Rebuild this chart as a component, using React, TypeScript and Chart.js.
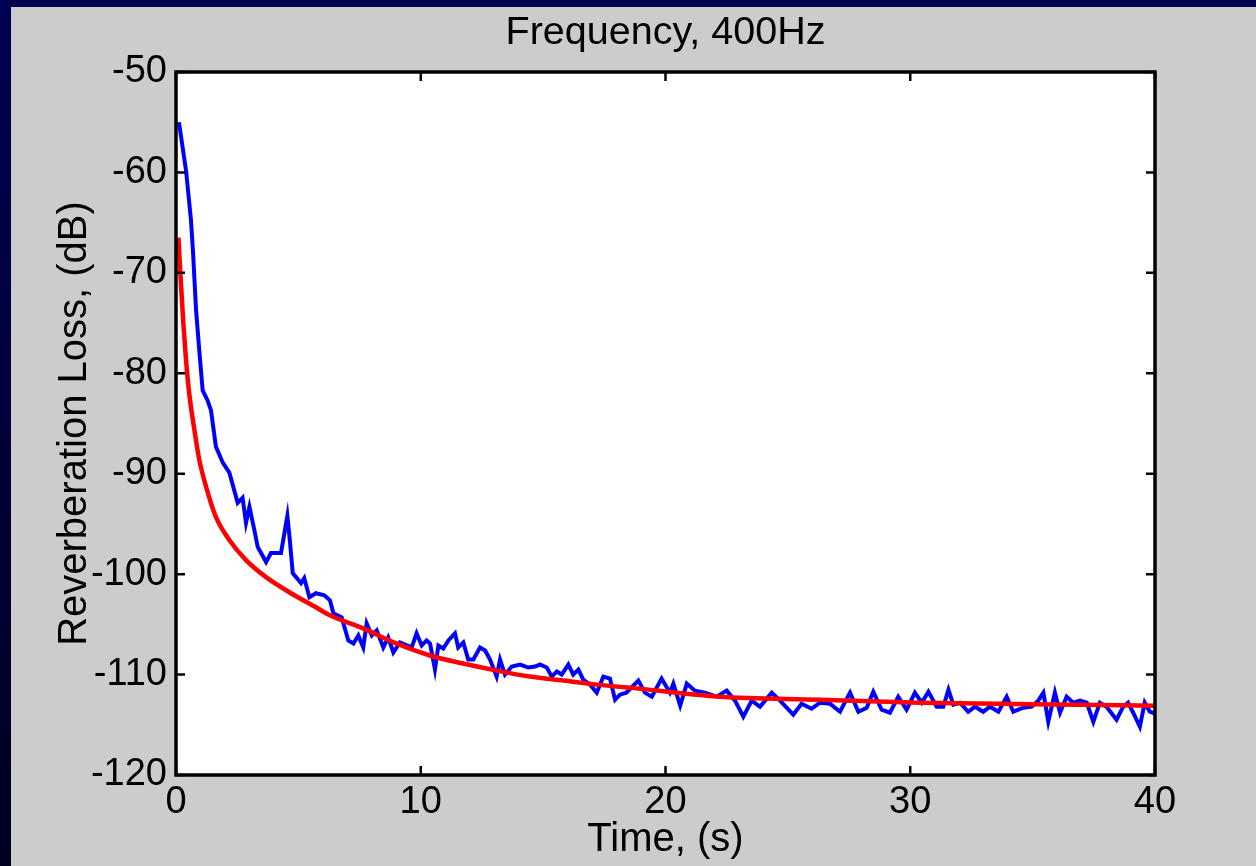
import React, { useEffect, useRef } from 'react';
import { Chart, registerables } from 'chart.js';

Chart.register(...registerables);

const titleText = 'Frequency, 400Hz';
const xAxisTitle = 'Time, (s)';
const yAxisTitle = 'Reverberation Loss, (dB)';

const xTickValues = [0, 10, 20, 30, 40];
const xTickLabels = ['0', '10', '20', '30', '40'];
const yTickValues = [-120, -110, -100, -90, -80, -70, -60, -50];
const yTickLabels = ['-120', '-110', '-100', '-90', '-80', '-70', '-60', '-50'];

// Measured reverberation loss (blue)
const measuredTime = [
  0.12, 0.41, 0.61, 0.69, 0.82, 0.95, 1.09, 1.29, 1.43, 1.63, 1.91, 2.18, 2.52, 2.72, 2.86, 3.0,
  3.2, 3.34, 3.68, 3.88, 4.29, 4.55, 4.65, 4.77, 5.11, 5.24, 5.45, 5.72, 6.06, 6.29, 6.43, 6.77,
  7.04, 7.25, 7.45, 7.65, 7.79, 8.0, 8.2, 8.47, 8.67, 8.88, 9.15, 9.43, 9.63, 9.83, 10.04, 10.24,
  10.38, 10.58, 10.72, 10.92, 11.13, 11.4, 11.53, 11.74, 11.94, 12.15, 12.42, 12.63, 12.83, 13.1,
  13.24, 13.44, 13.72, 14.06, 14.39, 14.67, 14.87, 15.15, 15.35, 15.56, 15.76, 16.03, 16.23, 16.44,
  16.64, 16.92, 17.19, 17.46, 17.73, 17.94, 18.14, 18.4, 18.89, 19.16, 19.44, 19.84, 20.18, 20.32,
  20.6, 20.87, 21.2, 21.61, 22.09, 22.5, 22.84, 23.18, 23.52, 23.86, 24.34, 24.68, 25.22, 25.56,
  25.97, 26.31, 26.72, 27.13, 27.54, 27.88, 28.22, 28.49, 28.83, 29.17, 29.51, 29.85, 30.19, 30.47,
  30.74, 31.08, 31.35, 31.56, 31.76, 32.03, 32.37, 32.65, 32.98, 33.26, 33.6, 33.94, 34.21, 34.62,
  34.96, 35.23, 35.44, 35.64, 35.91, 36.12, 36.39, 36.66, 36.94, 37.21, 37.48, 37.75, 38.02, 38.43,
  38.7, 38.9, 39.11, 39.38, 39.58, 39.79, 40.0,
];
const measuredLoss = [
  -55.0, -59.8, -64.7, -67.7, -73.7, -77.7, -81.7, -82.7, -83.7, -87.3, -88.9, -89.9, -92.9, -92.4, -94.9, -93.3,
  -95.6, -97.3, -98.8, -97.9, -97.9, -94.2, -96.6, -99.9, -100.9, -100.4, -102.3, -101.9, -102.1, -102.6, -103.9, -104.3,
  -106.6, -106.9, -106.1, -107.3, -104.9, -106.1, -105.6, -107.3, -106.3, -107.8, -106.8, -107.1, -107.3, -105.9, -107.1, -106.6,
  -106.9, -109.5, -107.1, -107.4, -106.6, -105.9, -107.3, -106.8, -108.5, -108.5, -107.3, -107.6, -108.5, -110.2,
  -108.5, -110.0, -109.2, -109.0, -109.3, -109.2, -109.0, -109.3, -110.2, -109.7, -110.0, -109.0, -110.0, -109.5,
  -110.5, -111.0, -111.8, -110.2, -110.4, -112.5, -112.0, -111.8, -110.6, -111.8, -112.2, -110.4, -111.8, -110.9,
  -113.1, -110.9, -111.6, -111.8, -112.2, -111.6, -112.6, -114.2, -112.6, -113.2, -111.8, -112.6, -114.0, -112.9,
  -113.4, -112.8, -112.9, -113.7, -111.8, -113.7, -113.3, -111.7, -113.5, -113.8, -112.2, -113.5, -111.8, -112.8,
  -111.7, -113.2, -113.2, -111.5, -113.0, -112.8, -113.7, -113.2, -113.7, -113.2, -113.7, -112.2, -113.7, -113.3,
  -113.2, -112.6, -111.8, -114.7, -111.8, -113.8, -112.2, -112.8, -112.6, -112.8, -114.7, -112.8, -113.2, -114.5,
  -113.2, -112.8, -113.8, -115.2, -112.8, -113.7, -113.9,
];

// Model reverberation loss (red)
const modelTime = [
  0.1, 0.2, 0.3, 0.41, 0.54, 0.75, 0.95, 1.23, 1.63, 2.18, 2.86, 3.68, 4.63, 5.72, 6.29, 7.65,
  9.0, 10.38, 11.74, 13.1, 14.46, 15.83, 17.19, 18.55, 22.2, 26.3, 30.4, 35.0, 40.0,
];
const modelLoss = [
  -66.5, -71.0, -75.0, -78.7, -82.0, -85.6, -88.6, -91.3, -94.3, -96.6, -98.6, -100.3, -101.8, -103.3, -104.1, -105.4,
  -106.9, -108.1, -108.9, -109.6, -110.2, -110.6, -111.0, -111.3, -112.2, -112.5, -112.8, -112.95, -113.1,
];

const FONT = '"Liberation Sans", Arial, Helvetica, sans-serif';

const framePlugin = {
  id: 'matlabFrame',
  beforeDraw(chart: any) {
    const { ctx, width, height, chartArea: a } = chart;
    ctx.save();
    const g = ctx.createLinearGradient(0, 0, 0, height);
    g.addColorStop(0, '#000052');
    g.addColorStop(1, '#000022');
    ctx.fillStyle = g;
    ctx.fillRect(0, 0, width, height);
    ctx.fillStyle = '#cccccc';
    ctx.fillRect(11, 7, width - 11, height - 7);
    ctx.fillStyle = '#ffffff';
    ctx.fillRect(a.left, a.top, a.right - a.left, a.bottom - a.top);
    ctx.restore();
  },
  afterDatasetsDraw(chart: any) {
    const { ctx, chartArea: a, scales } = chart;
    ctx.save();
    ctx.strokeStyle = '#000000';
    ctx.lineWidth = 2.5;
    const L = 9;
    for (const v of xTickValues) {
      const px = scales.x.getPixelForValue(v);
      ctx.beginPath();
      ctx.moveTo(px, a.bottom);
      ctx.lineTo(px, a.bottom - L);
      ctx.moveTo(px, a.top);
      ctx.lineTo(px, a.top + L);
      ctx.stroke();
    }
    for (const v of yTickValues) {
      const py = scales.y.getPixelForValue(v);
      ctx.beginPath();
      ctx.moveTo(a.left, py);
      ctx.lineTo(a.left + L, py);
      ctx.moveTo(a.right, py);
      ctx.lineTo(a.right - L, py);
      ctx.stroke();
    }
    ctx.lineWidth = 3.5;
    ctx.strokeRect(a.left, a.top, a.right - a.left, a.bottom - a.top);
    ctx.restore();
  },
};

export default function App() {
  const canvasRef = useRef<HTMLCanvasElement | null>(null);

  useEffect(() => {
    const canvas = canvasRef.current;
    if (!canvas) return;
    const measured = measuredTime.map((t, i) => ({ x: t, y: measuredLoss[i] }));
    const model = modelTime.map((t, i) => ({ x: t, y: modelLoss[i] }));
    const tickFont = { family: FONT, size: 38, weight: 'normal' as const, lineHeight: 1.2 };
    const titleFont = { family: FONT, size: 39.5, weight: 'normal' as const, lineHeight: 1.2 };
    const axisFont = { family: FONT, size: 40, weight: 'normal' as const, lineHeight: 1.2 };

    const chart = new Chart(canvas, {
      type: 'line',
      data: {
        datasets: [
          {
            label: 'Model',
            data: model,
            borderColor: '#ff0000',
            borderWidth: 4.5,
            pointRadius: 0,
            cubicInterpolationMode: 'monotone',
            fill: false,
            order: 0,
          },
          {
            label: 'Measured',
            data: measured,
            borderColor: '#0000ff',
            borderWidth: 4,
            pointRadius: 0,
            tension: 0,
            fill: false,
            order: 1,
          },
        ],
      },
      options: {
        responsive: false,
        animation: false,
        layout: { padding: { left: 0, right: 101, top: 0, bottom: 0 } },
        plugins: {
          legend: { display: false },
          tooltip: { enabled: false },
          title: {
            display: true,
            fullSize: false,
            text: titleText,
            color: '#000000',
            font: titleFont,
            padding: { top: 9, bottom: 15.6 },
          },
        },
        scales: {
          x: {
            type: 'linear',
            min: 0,
            max: 40,
            afterBuildTicks: (s: any) => {
              s.ticks = xTickValues.map((v) => ({ value: v }));
            },
            afterFit: (s: any) => {
              s.height = 91;
            },
            ticks: {
              color: '#000000',
              font: tickFont,
              padding: 5,
              maxRotation: 0,
              autoSkip: false,
              callback: (v: any) => xTickLabels[xTickValues.indexOf(Number(v))] ?? '',
            },
            grid: { display: false, drawTicks: false },
            border: { display: false },
            title: {
              display: true,
              text: xAxisTitle,
              color: '#000000',
              font: axisFont,
              padding: { top: 0, bottom: 2 },
            },
          },
          y: {
            type: 'linear',
            min: -120,
            max: -50,
            afterBuildTicks: (s: any) => {
              s.ticks = yTickValues.map((v) => ({ value: v }));
            },
            afterFit: (s: any) => {
              s.width = 176;
            },
            ticks: {
              color: '#000000',
              font: tickFont,
              padding: 9,
              autoSkip: false,
              callback: (v: any) => yTickLabels[yTickValues.indexOf(Number(v))] ?? '',
            },
            grid: { display: false, drawTicks: false },
            border: { display: false },
            title: {
              display: true,
              text: yAxisTitle,
              color: '#000000',
              font: axisFont,
              padding: { top: 51, bottom: 0 },
            },
          },
        },
      },
      plugins: [framePlugin],
    } as any);

    return () => {
      chart.destroy();
    };
  }, []);

  return (
    <div style={{ position: 'absolute', left: 0, top: 0, width: 1256, height: 866 }}>
      <canvas ref={canvasRef} width={1256} height={866} style={{ display: 'block' }} />
    </div>
  );
}
